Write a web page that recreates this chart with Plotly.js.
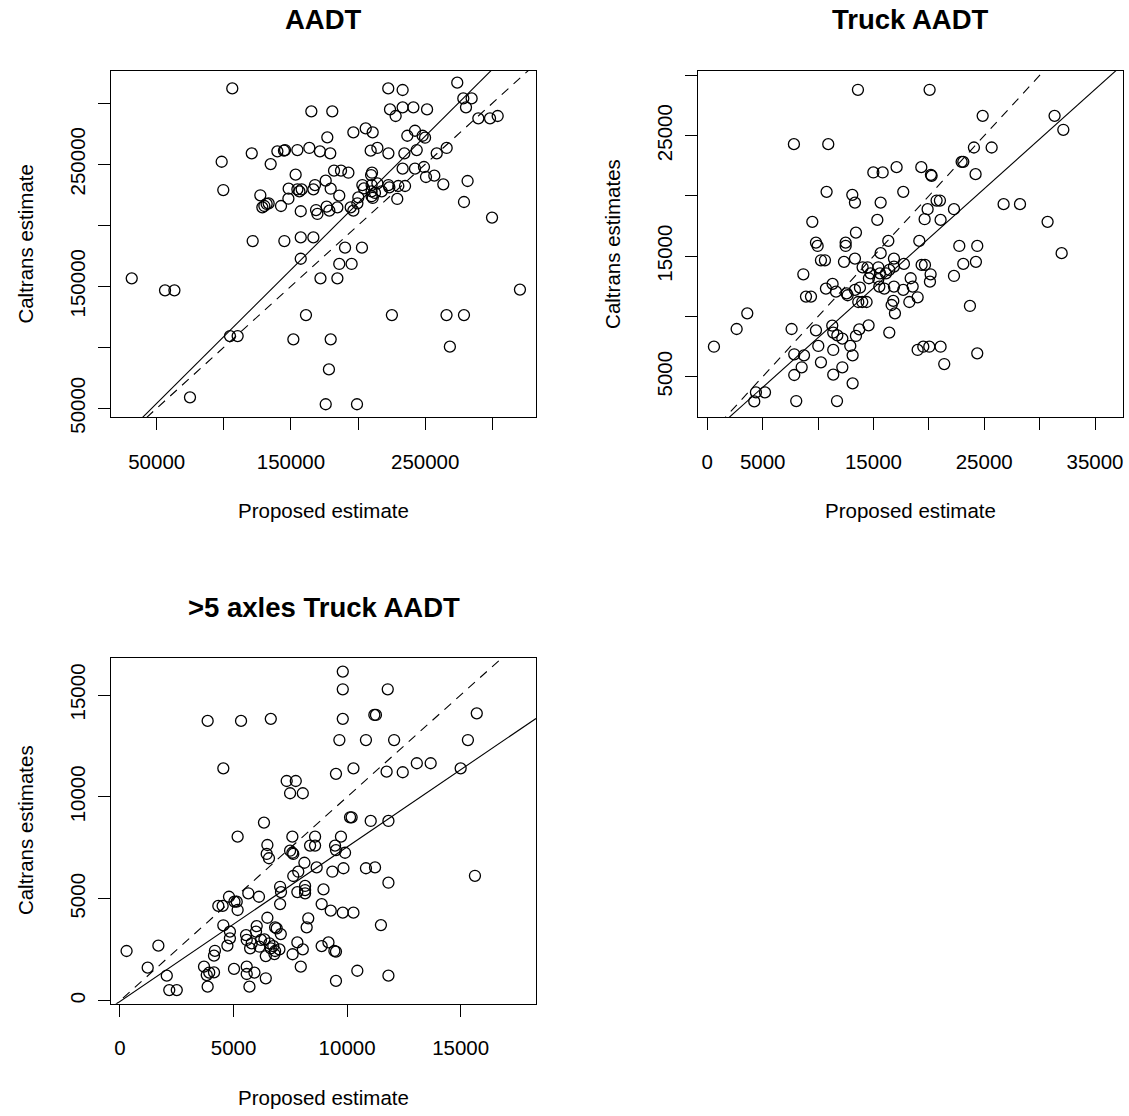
<!DOCTYPE html>
<html>
<head>
<meta charset="utf-8">
<script src="https://cdn.plot.ly/plotly-3.0.1.min.js"></script>
<style>
html,body{margin:0;padding:0;background:#fff;}
#chart{width:1129px;height:1116px;}
</style>
</head>
<body>
<div id="chart"></div>
<script>
// ---------------- DATA ----------------
// Panel 1: AADT
const aadtProposed = [
106300,165200,120800,98400,139900,144800,145600,154800,163700,
134900,153500,99600,127200,128700,130200,131900,133400,142600,148100,
148300,154800,156300,158000,166700,167900,157300,168700,169700,121500,
145100,157300,166700,157300,31400,56200,63200,172000,
161200,151800,104600,110300,74800,
222500,233200,273900,278400,284600,280400,223800,228000,233200,241200,251400,180800,289600,298300,304000,
196500,205700,210900,177100,236700,242400,248100,249900,266000,258600,243700,234500,222600,209400,214400,
171600,179300,182100,187300,192800,210400,209700,233200,242400,249100,250600,256800,263500,281600,278900,
299800,320600,175900,179600,186000,176600,178600,184600,194500,196500,199500,203200,204400,
210100,214400,210100,212600,210100,210900,217600,222600,223300,230000,235000,229200,200200,190300,202900,
186000,195200,184600,225200,265900,278900,179600,268400,178300,175900,199200
];
const aadtCaltrans = [
312200,293400,259000,252100,260600,261200,261700,261700,263400,
250200,241500,228900,224600,214700,215800,217500,218000,215800,221800,
230000,229500,227800,229500,229500,233000,211500,212500,209300,187100,
187100,190100,190100,172600,156500,146700,146700,156500,
126400,106500,109200,109200,59000,
312200,310900,316900,304000,304000,296700,295000,289600,296700,296700,295000,293400,287700,287700,289600,
276200,279400,276200,272100,273400,277500,273400,271800,263400,259000,261700,259000,259000,261200,263400,
260600,259000,244800,244800,243100,243100,241200,246400,246400,247800,239600,240700,233600,236300,219100,
206300,147300,236600,230000,224300,215300,212000,214700,214700,212000,218000,233000,230300,
233000,234400,227800,226500,223800,222400,227800,233000,231100,232200,232200,221600,222900,181700,181700,
168300,168300,156500,126400,126400,126400,106500,100500,81900,53300,53300
];

// Panel 2: Truck AADT
const truckProposed = [
13600,7820,10920,14990,15830,17090,10770,13090,13330,15650,17690,15350,9480,13420,9810,9960,12490,12490,16340,15650,
10260,10620,12340,13330,14020,14470,14740,14590,15440,15590,16130,16430,16850,16850,15440,15530,15980,16850,8670,11310,
10710,11620,12580,12670,13330,13780,8910,9360,13630,13990,14380,16790,16640,16940,3610,2650,600,7610,9810,11280,
11370,11740,12190,13420,13720,14560,16430,10020,12910,11370,7850,8730,13120,10260,8520,12190,7850,11370,13120,4390,
5210,4240,8030,11710,
20070,24860,31350,32140,24070,25670,22960,23110,24220,19320,20190,20250,20700,21000,19890,19620,21060,22270,26750,28230,
30720,19140,31990,22750,24370,23110,24250,22270,19350,19650,20160,20100,18360,18540,17690,18990,18240,23710,18990,19500,
20040,21060,24370,21390,17750
];
const truckCaltrans = [
28810,24300,24300,21950,21950,22390,20340,20090,19450,19450,20340,18010,17850,16960,16130,15850,16130,15850,16270,15250,
14660,14660,14530,14800,14080,14080,13580,13170,14080,13580,13580,13860,14800,14140,13090,12480,12310,12480,13500,12700,
12310,12060,11920,11760,12200,12390,11650,11650,11200,11200,11200,11290,10950,10260,10260,8960,7490,8960,8850,9240,
8660,8430,8160,8380,8930,9260,8660,7550,7550,7220,6860,6770,6770,6190,5780,5780,5140,5170,4450,3700,
3700,2950,2980,2980,
28810,26650,26650,25490,24020,24020,22830,22830,21810,22390,21750,21670,19620,19620,18900,18070,18010,18900,19320,19320,
17850,16270,15250,15850,15850,14360,14530,13360,14280,14280,13500,12890,13170,12480,12200,11590,11200,10870,7220,7490,
7490,7490,6940,6050,14360
];

// Panel 3: >5 axles Truck AADT
const axleProposed = [
3860,5330,6640,4550,7340,7740,7490,8050,6340,5180,7590,6490,7490,7590,7630,6460,6560,8120,7850,7630,
5650,7050,7090,7810,8150,6120,4800,5040,5140,5180,4330,4520,7050,4550,4840,4840,4730,6490,6020,5990,
5550,5580,5730,5800,6210,6140,6360,6580,6420,6640,6750,6830,6900,7080,6800,7020,6830,7810,8050,7600,
8220,8290,7960,6420,5700,5920,5580,5580,5020,3860,3820,3930,4140,3700,4140,4180,2500,2170,2060,1220,
1690,290,
9810,9810,11790,9810,11200,11270,15710,9660,10830,12070,15320,10280,9510,11740,12450,13070,13680,15000,10130,10200,
11040,11820,8590,9730,8370,8590,9470,9510,9910,8660,9350,9840,10830,11230,11820,15630,8150,8150,8960,8880,
9280,9810,10280,11490,8880,9180,9440,9510,10450,11820,9510
];
const axleCaltrans = [
13730,13730,13830,11400,10780,10780,10180,10180,8740,8050,8050,7640,7360,7260,7200,7200,6990,6770,6330,6120,
5270,5590,5330,5330,5270,5100,5100,4860,4860,4450,4650,4650,4740,3700,3390,3060,2700,4070,3660,3390,
3220,2980,2570,2810,2980,2650,3010,2810,2190,2570,2680,3600,3550,3270,2290,2520,2440,2860,2520,2280,
3600,4040,1670,1100,690,1380,1310,1670,1560,690,1260,1380,1390,1670,2210,2450,520,520,1230,1620,
2700,2440,
16150,15280,15280,13830,14020,14020,14100,12790,12790,12790,12790,11400,11130,11240,11210,11650,11650,11400,9000,9000,
8820,8820,8050,8050,7610,7610,7610,7390,7260,6540,6330,6500,6500,6540,5790,6130,5630,5430,5460,4740,
4420,4320,4320,3710,2680,2860,2440,2410,1470,1230,970
];

// Reference lines: solid = fitted line, dashed = identity (y = x)
const fitSlope     = [1.095, 0.824, 0.758];
const fitIntercept = [-700, 0, -36];
const identitySlope = [1, 1, 1];

// Axis tick values and labels
const aadtTicks      = [50000, 100000, 150000, 200000, 250000, 300000];
const aadtTickText   = ["50000", "", "150000", "", "250000", ""];
const truckXTicks    = [0, 5000, 10000, 15000, 20000, 25000, 30000, 35000];
const truckXTickText = ["0", "5000", "", "15000", "", "25000", "", "35000"];
const truckYTicks    = [5000, 10000, 15000, 20000, 25000, 30000];
const truckYTickText = ["5000", "", "15000", "", "25000", ""];
const axleTicks      = [0, 5000, 10000, 15000];
const axleTickText   = ["0", "5000", "10000", "15000"];

// Text
const panelTitles = ["AADT", "Truck AADT", ">5 axles Truck AADT"];
const xTitles = ["Proposed estimate", "Proposed estimate", "Proposed estimate"];
const yTitles = ["Caltrans estimate", "Caltrans estimates", "Caltrans estimates"];

// ---------------- LAYOUT ----------------
const W = 1129, H = 1116;
const FONT = "Liberation Sans, Arial, Helvetica, sans-serif";
const fx = p => p / W;
const fy = p => 1 - p / H;

const ranges = {
  x1: [15957, 332553], y1: [42623, 326475],
  x2: [-812, 37528],   y2: [1631, 30369],
  x3: [-396, 18318],   y3: [-137, 16840]
};

function axName(prefix, n) { return prefix + (n === 1 ? '' : n); }

function lineTrace(slope, intercept, axn, dash) {
  const xr = ranges['x' + axn];
  const xs = [xr[0], xr[1]];
  const ys = xs.map(v => intercept + slope * v);
  return {
    x: xs, y: ys, mode: 'lines', type: 'scatter',
    xaxis: axName('x', axn), yaxis: axName('y', axn),
    line: {color: '#000', width: 1.1, dash: dash},
    hoverinfo: 'skip', showlegend: false
  };
}
function pointTrace(xs, ys, axn) {
  return {
    x: xs, y: ys, mode: 'markers', type: 'scatter',
    xaxis: axName('x', axn), yaxis: axName('y', axn),
    marker: {symbol: 'circle-open', size: 11, color: '#000', line: {color: '#000', width: 1.3}},
    showlegend: false, cliponaxis: false
  };
}

const traces = [
  pointTrace(aadtProposed, aadtCaltrans, 1),
  pointTrace(truckProposed, truckCaltrans, 2),
  pointTrace(axleProposed, axleCaltrans, 3)
];
for (let i = 0; i < 3; i++) {
  traces.push(lineTrace(fitSlope[i], fitIntercept[i], i + 1, 'solid'));
  traces.push(lineTrace(identitySlope[i], 0, i + 1, '9px,7px'));
}

const tickFont = {family: FONT, size: 20.5, color: '#000'};
function xAxis(n, domain, range, vals, text) {
  return {
    anchor: axName('y', n),
    domain: domain, range: range, tickmode: 'array', tickvals: vals, ticktext: text,
    showgrid: false, zeroline: false, showline: true, mirror: true,
    linecolor: '#000', linewidth: 1, ticks: 'outside', ticklen: 12, tickwidth: 1, tickcolor: '#000',
    tickfont: tickFont, tickangle: 0, ticklabelstandoff: 14, fixedrange: true
  };
}
function yAxis(n, domain, range, vals, text) {
  return {
    anchor: axName('x', n),
    domain: domain, range: range, tickmode: 'array', tickvals: vals, ticktext: text,
    showgrid: false, zeroline: false, showline: true, mirror: true,
    linecolor: '#000', linewidth: 1, ticks: 'outside', ticklen: 12, tickwidth: 1, tickcolor: '#000',
    tickfont: tickFont, tickangle: -90, ticklabelstandoff: 5, fixedrange: true
  };
}

const dxL = [fx(111), fx(536)], dxR = [fx(698.3), fx(1123)];
const dyT = [fy(417.3), fy(71)], dyB = [fy(1003.5), fy(657.5)];

const titleFont = {family: FONT, size: 27.5, color: '#000', weight: 700};
const labFont = {family: FONT, size: 20.5, color: '#000'};
function ann(text, x, y, font, angle) {
  return {text: text, x: fx(x), y: fy(y), xref: 'paper', yref: 'paper',
          xanchor: 'center', yanchor: 'middle', showarrow: false, font: font, textangle: angle || 0};
}

const layout = {
  width: W, height: H, margin: {l: 0, r: 0, t: 0, b: 0},
  paper_bgcolor: '#fff', plot_bgcolor: '#fff', showlegend: false,
  xaxis:  xAxis(1, dxL, ranges.x1, aadtTicks, aadtTickText),
  yaxis:  yAxis(1, dyT, ranges.y1, aadtTicks, aadtTickText),
  xaxis2: xAxis(2, dxR, ranges.x2, truckXTicks, truckXTickText),
  yaxis2: yAxis(2, dyT, ranges.y2, truckYTicks, truckYTickText),
  xaxis3: xAxis(3, dxL, ranges.x3, axleTicks, axleTickText),
  yaxis3: yAxis(3, dyB, ranges.y3, axleTicks, axleTickText),
  annotations: [
    ann(panelTitles[0], 323.5, 20, titleFont),
    ann(panelTitles[1], 910.6, 20, titleFont),
    ann(panelTitles[2], 323.5, 607, titleFont),
    ann(xTitles[0], 323.5, 511, labFont),
    ann(xTitles[1], 910.6, 511, labFont),
    ann(xTitles[2], 323.5, 1097.5, labFont),
    ann(yTitles[0], 25.6, 244, labFont, -90),
    ann(yTitles[1], 612.9, 244, labFont, -90),
    ann(yTitles[2], 25.6, 830.5, labFont, -90)
  ]
};

Plotly.newPlot('chart', traces, layout, {staticPlot: true, displayModeBar: false});
</script>
</body>
</html>
